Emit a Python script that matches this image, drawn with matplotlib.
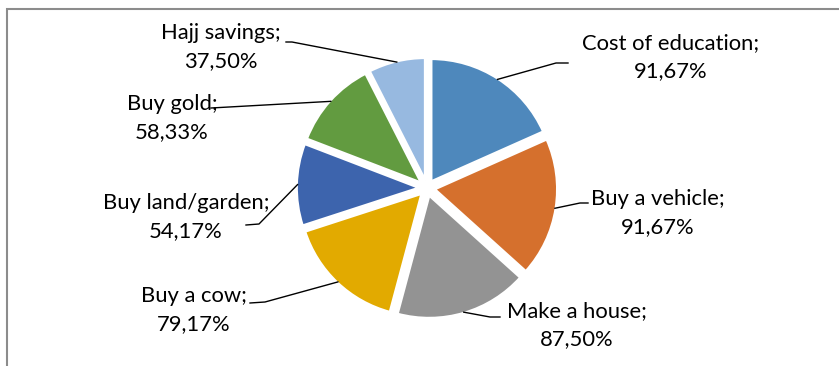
import matplotlib.pyplot as plt
import numpy as np
from matplotlib.patches import Rectangle

plt.rcParams['font.family'] = ['Lato', 'DejaVu Sans']

# data
labels = ['Cost of education', 'Buy a vehicle', 'Make a house', 'Buy a cow',
          'Buy land/garden', 'Buy gold', 'Hajj savings']
values = [91.67, 91.67, 87.50, 79.17, 54.17, 58.33, 37.50]
colors = ['#4E88BC', '#D5702D', '#939393', '#E2AA00', '#3D64AD', '#629B40', '#97B9E0']

W, H = 839, 366
cx, cy, r = 427, 188, 123
gap = 7.5  # explode distance in pixels

# label layout (pixels from top-left): text centre, elbow, end of leader
text_pos = [(671, 57), (658, 213), (577, 325), (194, 310), (186, 217), (172, 118), (221, 47)]
elbows = [(556, 63), (580, 203), (490, 317), (265, 302), (259, 224), None, (292, 42)]
ends = [(568, 63), (588, 203), (500, 317), (250, 303), (246, 225), (211, 108), (286, 42)]

fig = plt.figure(figsize=(W / 100, H / 100), dpi=100)
ax = fig.add_axes([0, 0, 1, 1])

wedges, _ = ax.pie(values, colors=colors, startangle=90, counterclock=False,
                   explode=[gap] * len(values), center=(cx, H - cy), radius=r,
                   wedgeprops=dict(edgecolor='white', linewidth=2))
ax.set_xlim(0, W)
ax.set_ylim(0, H)
ax.set_aspect('equal')
ax.axis('off')

# chart border (right/bottom edges fall outside the image)
ax.add_patch(Rectangle((6.5, -20), W, H - 8.5 + 20, fill=False, edgecolor='#8c8c8c',
                       linewidth=1.5, clip_on=False))

for i, w in enumerate(wedges):
    mid = np.deg2rad((w.theta1 + w.theta2) / 2)
    sx = cx + (gap + r - 1) * np.cos(mid)
    sy = H - cy + (gap + r - 1) * np.sin(mid)
    xs, ys = [sx], [sy]
    if elbows[i] is not None:
        xs.append(elbows[i][0])
        ys.append(H - elbows[i][1])
    xs.append(ends[i][0])
    ys.append(H - ends[i][1])
    ax.plot(xs, ys, color='black', linewidth=1)
    tx, ty = text_pos[i]
    ax.text(tx, H - ty, f'{labels[i]};\n{values[i]:.2f}%'.replace('.', ','),
            ha='center', va='center', multialignment='center', fontsize=15.8,
            linespacing=1.45, color='black')

fig.savefig('out.png', dpi=100)
